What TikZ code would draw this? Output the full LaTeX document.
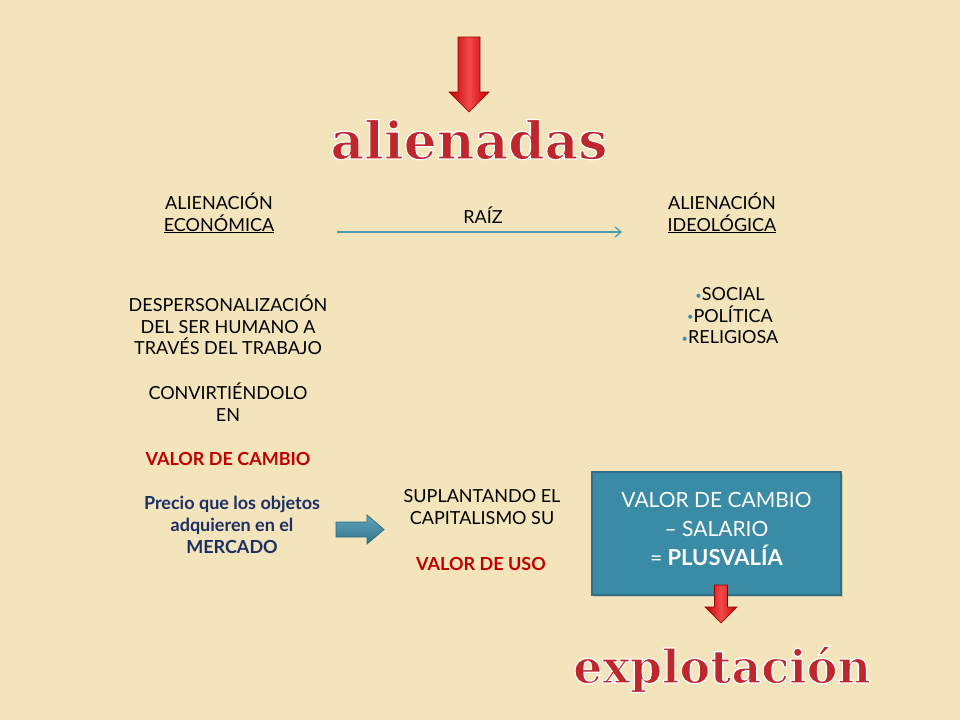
\documentclass[tikz,border=0pt]{standalone}
\usepackage{fontspec}
\usepackage{graphicx}
\setmainfont{Lato}
\newfontfamily\titlefont{DejaVu Serif}
\usetikzlibrary{arrows.meta,shadows}
\definecolor{bgc}{HTML}{F3E4BB}
\definecolor{titlered}{HTML}{C0272D}
\definecolor{valred}{HTML}{C00000}
\definecolor{navyc}{HTML}{1B2F66}
\definecolor{tealbox}{HTML}{3A8BA5}
\definecolor{tealedge}{HTML}{2D6F86}
\definecolor{linec}{HTML}{4A9CB3}
\definecolor{bulc}{HTML}{3F8FA8}
\definecolor{arrdark}{HTML}{C00000}
\definecolor{arrlight}{HTML}{F24A4A}
\newcommand\mybul{\textcolor{bulc}{\raisebox{.2ex}{\fontsize{11}{11}\selectfont•}}}
\newcommand\outlined[1]{\special{pdf:literal direct 2 Tr 1.2 w 1 1 1 RG}#1\special{pdf:literal direct 0 Tr}}
\begin{document}
\begin{tikzpicture}[x=1pt,y=-1pt,
  every node/.style={inner sep=0pt,outer sep=0pt},
  body/.style={font=\fontsize{18}{21.5}\selectfont,align=center,text=black},
  titletext/.style={font=\titlefont\bfseries,text=titlered},
  redarrow/.style={left color=arrdark,right color=arrdark,middle color=arrlight,draw=arrdark!80!black,line width=0.6pt},
  tealarrow/.style={top color=tealbox!80!white,bottom color=tealbox!85!black,draw=tealedge,line width=0.8pt},
  boxstyle/.style={fill=tealbox,draw=tealedge,line width=1.2pt,minimum width=249pt,minimum height=123pt,align=center,text=white,font=\fontsize{21}{29}\selectfont,drop shadow={opacity=0.3,shadow xshift=2pt,shadow yshift=-2pt}},
  conn/.style={draw=linec,line width=1.2pt,-{Straight Barb[length=6pt,width=10pt]}}
]
\fill[bgc] (0,0) rectangle (960,720);
\useasboundingbox (0,0) rectangle (960,720);

% top red arrow
\path[redarrow] (458,37) -- (480,37) -- (480,92) -- (489,92) -- (469,112) -- (449,92) -- (458,92) -- cycle;
\node[titletext,anchor=base,font=\titlefont\bfseries\fontsize{52}{52}\selectfont] (alien) at (469,159) {\outlined{alienadas}};

% headings
\node[body] (econ) at (219,213) {ALIENACIÓN\\\underline{ECONÓMICA}};
\node[body] (ideo) at (722,213) {ALIENACIÓN\\\underline{IDEOLÓGICA}};
\node[body,anchor=base] (raiz) at (483,223) {RAÍZ};
\coordinate (raizStart) at (337,232);
\coordinate (raizEnd) at (622,232);
\draw[conn] (raizStart) -- (raizEnd);

% bullets
\node[body] (tipos) at (730,316) {\mybul SOCIAL\\\mybul POLÍTICA\\\mybul RELIGIOSA};

% left column
\node[body] (desp) at (228,325) {DESPERSONALIZACIÓN\\DEL SER HUMANO A\\TRAVÉS DEL TRABAJO};
\node[body] (conv) at (228,402) {CONVIRTIÉNDOLO\\EN};
\node[body,anchor=base,text=valred,font=\bfseries\fontsize{18}{21.5}\selectfont] (vcambio) at (228,465) {VALOR DE CAMBIO};
\node[body,text=navyc,font=\bfseries\fontsize{18}{22}\selectfont] (precio) at (232,525) {Precio que los objetos\\adquieren en el\\MERCADO};

% teal block arrow
\path[tealarrow] (336,522) -- (367,522) -- (367,515) -- (384,529.5) -- (367,544) -- (367,537) -- (336,537) -- cycle;

% middle column
\node[body] (supl) at (482,507) {SUPLANTANDO EL\\CAPITALISMO SU};
\node[body,anchor=base,text=valred,font=\bfseries\fontsize{18}{21.5}\selectfont] (vuso) at (481,570) {VALOR DE USO};

% box
\node[boxstyle] (plus) at (716.5,533.5) {VALOR DE CAMBIO\\– SALARIO\\= \textbf{\fontsize{22}{29}\selectfont PLUSVALÍA}\rule[-10pt]{0pt}{10pt}};

% small red arrow
\path[redarrow] (714.5,585) -- (727.5,585) -- (727.5,607) -- (737,607) -- (721,623) -- (705,607) -- (714.5,607) -- cycle;

\node[titletext,anchor=base,font=\titlefont\bfseries\fontsize{46}{46}\selectfont] (explot) at (722,683) {\outlined{explotación}};
\end{tikzpicture}
\end{document}
